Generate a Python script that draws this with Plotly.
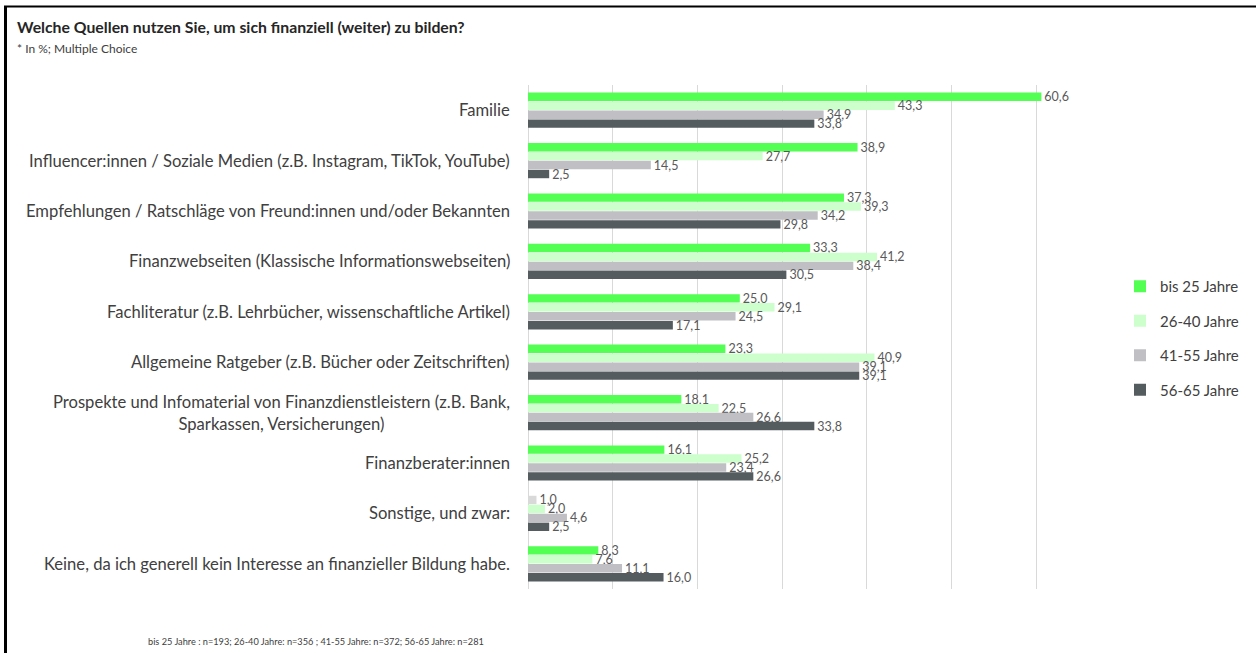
import plotly.graph_objects as go

categories = [
    "Familie",
    "Influencer:innen / Soziale Medien (z.B. Instagram, TikTok, YouTube)",
    "Empfehlungen / Ratschläge von Freund:innen und/oder Bekannten",
    "Finanzwebseiten (Klassische Informationswebseiten)",
    "Fachliteratur (z.B. Lehrbücher, wissenschaftliche Artikel)",
    "Allgemeine Ratgeber (z.B. Bücher oder Zeitschriften)",
    "Prospekte und Infomaterial von Finanzdienstleistern (z.B. Bank,<br>Sparkassen, Versicherungen)",
    "Finanzberater:innen",
    "Sonstige, und zwar:",
    "Keine, da ich generell kein Interesse an finanzieller Bildung habe.",
]

series_names = ["bis 25 Jahre", "26-40 Jahre", "41-55 Jahre", "56-65 Jahre"]
bis25 = [60.6, 38.9, 37.3, 33.3, 25.0, 23.3, 18.1, 16.1, 1.0, 8.3]
j26_40 = [43.3, 27.7, 39.3, 41.2, 29.1, 40.9, 22.5, 25.2, 2.0, 7.6]
j41_55 = [34.9, 14.5, 34.2, 38.4, 24.5, 39.1, 26.6, 23.4, 4.6, 11.1]
j56_65 = [33.8, 2.5, 29.8, 30.5, 17.1, 39.1, 33.8, 26.6, 2.5, 16.0]
series_values = [bis25, j26_40, j41_55, j56_65]
colors = ["#52FF52", "#CCFFCC", "#C0BFC4", "#555C5F"]

title = "Welche Quellen nutzen Sie, um sich finanziell (weiter) zu bilden?"
subtitle = "* In %; Multiple Choice"
footnote = "bis 25 Jahre : n=193; 26-40 Jahre: n=356 ; 41-55 Jahre: n=372; 56-65 Jahre: n=281"

FONT = "Lato"
W, H = 1256, 653
ML, MR, MT, MB = 528, 135, 85, 64
PW, PH = W - ML - MR, H - MT - MB

def px_x(x):
    return (x - ML) / PW

def px_y(y):
    return 1 - (y - MT) / PH

fig = go.Figure()
for i, (name, vals, col) in enumerate(zip(series_names, series_values, colors)):
    mcol = [col] * len(vals)
    if i == 0:
        mcol[8] = "#D9D9D9"
    fig.add_trace(go.Bar(
        y=categories, x=vals, name=name, orientation="h",
        marker=dict(color=mcol, line=dict(width=0)),
        text=vals, texttemplate="%{x:.1f}", textposition="outside",
        textfont=dict(family=FONT, size=12.5, color="#595959"),
        constraintext="none", cliponaxis=False,
        legendgroup=name,
    ))

annotations = []
for c in categories:
    annotations.append(dict(
        x=px_x(512), xref="paper", y=c, yref="y", text=c, showarrow=False,
        xanchor="right", yanchor="middle", align="center",
        font=dict(family=FONT, size=16.6, color="#404040"),
    ))
annotations += [
    dict(x=px_x(15), y=px_y(27), xref="paper", yref="paper", text="<b>" + title + "</b>",
         showarrow=False, xanchor="left", yanchor="middle",
         font=dict(family=FONT, size=15.8, color="#262626")),
    dict(x=px_x(15), y=px_y(48), xref="paper", yref="paper", text=subtitle,
         showarrow=False, xanchor="left", yanchor="middle",
         font=dict(family=FONT, size=12, color="#404040")),
    dict(x=px_x(146), y=px_y(641), xref="paper", yref="paper", text=footnote,
         showarrow=False, xanchor="left", yanchor="middle",
         font=dict(family=FONT, size=9.2, color="#404040")),
]

shapes = [
    dict(type="line", xref="paper", yref="paper", x0=px_x(5.5), x1=px_x(5.5),
         y0=px_y(6), y1=px_y(660), line=dict(color="black", width=3)),
    dict(type="line", xref="paper", yref="paper", x0=px_x(4), x1=px_x(1260),
         y0=px_y(6.5), y1=px_y(6.5), line=dict(color="black", width=2)),
]

fig.update_layout(
    width=W, height=H, margin=dict(l=ML, r=MR, t=MT, b=MB, autoexpand=False),
    paper_bgcolor="white", plot_bgcolor="white",
    barmode="group", bargap=0.29, bargroupgap=0.06,
    separators=",.",
    font=dict(family=FONT, color="#404040"),
    xaxis=dict(range=[0, 70], dtick=10, showgrid=True, gridcolor="#D9D9D9", gridwidth=1,
               zeroline=True, zerolinecolor="#D9D9D9", zerolinewidth=1,
               showticklabels=False, showline=False, fixedrange=True),
    yaxis=dict(autorange="reversed", showticklabels=False, showgrid=False,
               showline=False, categoryorder="array", categoryarray=categories),
    legend=dict(x=px_x(1120), y=px_y(270), xanchor="left", yanchor="top",
                font=dict(family=FONT, size=15, color="#404040"),
                tracegroupgap=12, itemwidth=30, traceorder="grouped"),
    annotations=annotations, shapes=shapes,
)

fig.write_html("out.html", config={"displayModeBar": False},
               post_script="document.body.style.margin='0';document.body.style.overflow='hidden';")
